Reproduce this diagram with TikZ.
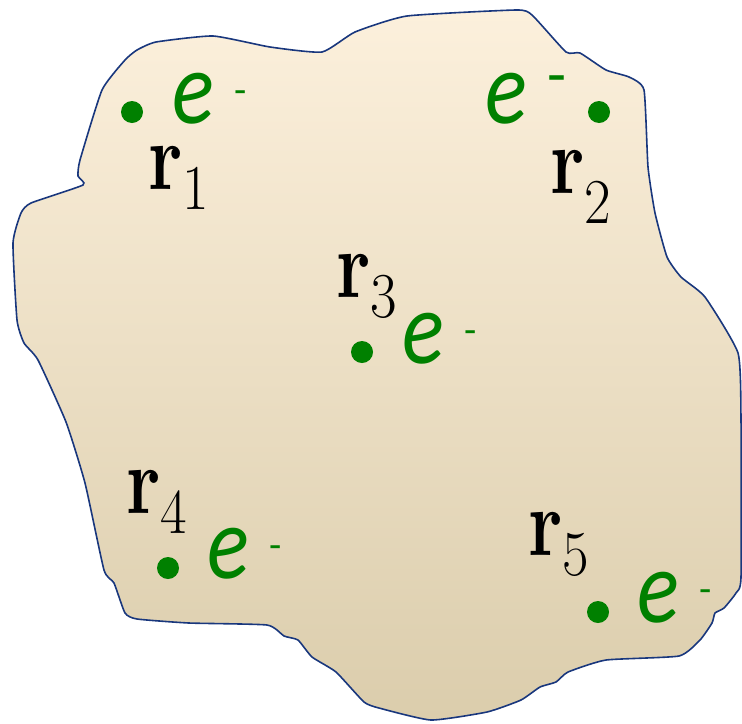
\documentclass[tikz,border=0pt]{standalone}
\usepackage{fontspec}
\newfontfamily\efont{Carlito}
\definecolor{edot}{RGB}{0,128,0}
\definecolor{blobline}{RGB}{25,55,125}
\definecolor{blobtop}{RGB}{252,240,220}
\definecolor{blobmid}{RGB}{244,236,217}
\definecolor{blobbot}{RGB}{219,205,172}
% r_i  (digit, how far the digit drops)
\newcommand{\rsub}[2]{\scalebox{0.78}[1]{\textbf{r}}\raisebox{-#2}{\fontsize{32}{32}\selectfont\scalebox{0.9}[1]{#1}}}
% e^-  (size of the minus, its height)
\newcommand{\eminus}[2]{\scalebox{0.84}[1]{\itshape e}\hspace{10pt}\raisebox{#2}{\fontsize{#1}{#1}\selectfont -}}
\tikzset{
  electron/.style={circle,fill=edot,inner sep=0pt,minimum size=11pt},
  elabel/.style={text=edot,anchor=base west,inner sep=0pt,font=\efont\fontsize{52}{52}\selectfont},
  rlabel/.style={anchor=base west,inner sep=0pt,font=\fontsize{48}{48}\selectfont},
}
\begin{document}
\begin{tikzpicture}[x=0.5pt,y=-0.5pt]
\useasboundingbox (0,0) rectangle (742,723);
% the body
\draw[draw=blobline,line width=0.8pt,top color=blobtop,middle color=blobmid,bottom color=blobbot]
  plot[smooth cycle,tension=0.3] coordinates {
    (102,90) (125,60) (137,50) (156,42) (213,36) (270,47) (322,52) (355,32)
    (407,16) (516,10) (532,15) (566,52) (580,53) (606,70) (629,77) (644,90)
    (648,167) (655,213) (667,257) (681,277) (705,297) (738,353) (741,420)
    (741,577) (736,593) (724,608) (715,613) (712,623) (700,640) (679,656)
    (606,660) (568,672) (556,682) (540,687) (521,700) (487,712) (431,720)
    (379,708) (364,702) (336,672) (312,657) (298,640) (284,636) (267,625)
    (189,623) (137,619) (125,613) (114,583) (104,570) (85,483) (66,422)
    (38,360) (24,343) (17,320) (13,243) (21,213) (31,203) (83,185) (78,176)
    (80,160)};
% electrons
\foreach \i/\x/\y in {1/132/112, 2/599/112, 3/362/352, 4/168/568, 5/598/612}
  \node[electron] (d\i) at (\x,\y) {};
\node[elabel] (e1) at (172,123) {\eminus{20}{10pt}};
\node[elabel] (e2) at (485,123) {\eminus{31}{14pt}};
\node[elabel] (e3) at (402,363) {\eminus{20}{10pt}};
\node[elabel] (e4) at (207,578) {\eminus{20}{10pt}};
\node[elabel] (e5) at (637,622) {\eminus{20}{10pt}};
% positions
\node[rlabel] (r1) at (148,189) {\rsub{1}{10pt}};
\node[rlabel] (r2) at (550,193) {\rsub{2}{15pt}};
\node[rlabel] (r3) at (336,297) {\rsub{3}{10pt}};
\node[rlabel] (r4) at (126,513) {\rsub{4}{10pt}};
\node[rlabel] (r5) at (528,555) {\rsub{5}{10pt}};
\end{tikzpicture}
\end{document}
